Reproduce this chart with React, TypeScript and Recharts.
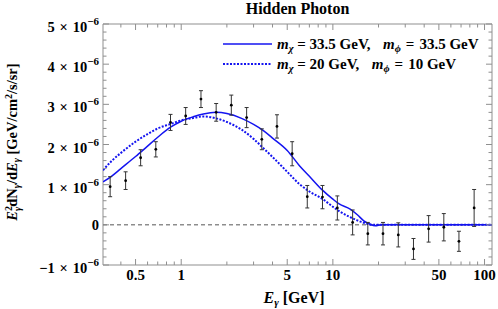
import React from 'react';
import { ComposedChart, Line, Scatter, ErrorBar, XAxis, YAxis, ReferenceLine, ReferenceArea } from 'recharts';

// flux values are in units of 1e-6 GeV/cm^2/s/sr
const binEnergy = [0.34, 0.43, 0.54, 0.68, 0.85, 1.07, 1.35, 1.7, 2.14, 2.7, 3.4, 4.28, 5.39, 6.78, 8.54, 10.7, 13.5, 17.0, 21.4, 27.0, 34.0, 42.8, 53.9, 67.8, 85.4];
const binFlux = [0.95, 1.1, 1.67, 1.88, 2.55, 2.71, 3.13, 2.8, 2.98, 2.67, 2.13, 2.45, 1.77, 0.7, 0.69, 0.42, 0.06, -0.22, -0.22, -0.25, -0.6, -0.1, -0.06, -0.41, 0.42];
const binError = [0.25, 0.22, 0.2, 0.19, 0.2, 0.21, 0.21, 0.22, 0.25, 0.25, 0.26, 0.29, 0.3, 0.28, 0.29, 0.3, 0.31, 0.28, 0.28, 0.3, 0.26, 0.33, 0.34, 0.25, 0.46];

const curveEnergy = [0.305, 0.35, 0.4, 0.5, 0.6, 0.7, 0.85, 1, 1.2, 1.4, 1.7, 2, 2.5, 3, 3.5, 4, 5, 6, 7, 8.5, 10, 11, 13, 14.5, 16, 17.5, 19, 21, 112];
// m_chi = 33.5 GeV, m_phi = 33.5 GeV
const curveHeavy = [1.07, 1.22, 1.4, 1.7, 1.96, 2.18, 2.43, 2.58, 2.69, 2.76, 2.8, 2.77, 2.65, 2.5, 2.34, 2.16, 1.85, 1.48, 1.21, 0.87, 0.64, 0.52, 0.39, 0.25, 0.1, 0.02, -0.025, 0, 0];
// m_chi = 20 GeV, m_phi = 10 GeV
const curveLight = [1.36, 1.6, 1.79, 2.07, 2.26, 2.4, 2.51, 2.6, 2.66, 2.7, 2.65, 2.56, 2.37, 2.14, 1.9, 1.69, 1.32, 1.02, 0.83, 0.65, 0.45, 0.34, 0.19, 0.11, 0.05, 0.01, 0, 0, 0];

const xMajorTicks = [0.5, 1, 5, 10, 50, 100];
const xMinorTicks = [0.4, 0.6, 0.7, 0.8, 0.9, 2, 3, 4, 6, 7, 8, 9, 20, 30, 40, 60, 70, 80, 90];
const yMajorTicks = [-1, 0, 1, 2, 3, 4, 5];

const legendLabels = [
  { mx: '33.5 GeV', mphi: '33.5 GeV', dash: undefined },
  { mx: '20 GeV', mphi: '10 GeV', dash: '2 1.5' },
];

const W = 498;
const H = 309;
const PLOT_LEFT = 103;
const PLOT_RIGHT = 492;
const PLOT_TOP = 24;
const PLOT_BOTTOM = 265;
const FRAME = '#8f8f8f';
const BLUE = '#1414f0';
const SP = '\u2004';
const textStyle: React.CSSProperties = { fontFamily: 'Liberation Serif', fontWeight: 'bold' };

const points = binEnergy.map((E, i) => ({ E, y: binFlux[i], err: binError[i] }));
const heavyData = curveEnergy.map((E, i) => ({ E, v: curveHeavy[i] }));
const lightData = curveEnergy.map((E, i) => ({ E, v: curveLight[i] }));

const xTicks = [...xMinorTicks, ...xMajorTicks].sort((a, b) => a - b);
const yTicks: number[] = [];
for (let k = -5; k <= 25; k++) yTicks.push(Math.round(k * 0.2 * 10) / 10);

const XTick = (props: any) => {
  const { x, payload } = props;
  const v = payload.value;
  const major = xMajorTicks.includes(v);
  const len = major ? 6 : 3.5;
  return (
    <g>
      <line x1={x} x2={x} y1={PLOT_BOTTOM} y2={PLOT_BOTTOM - len} stroke={FRAME} />
      <line x1={x} x2={x} y1={PLOT_TOP} y2={PLOT_TOP + len} stroke={FRAME} />
      {major && (
        <text x={x} y={280} textAnchor="middle" style={textStyle} fontSize={15} fill="#000">
          {v}
        </text>
      )}
    </g>
  );
};

const YTick = (props: any) => {
  const { y, payload } = props;
  const v = payload.value;
  const major = yMajorTicks.includes(v);
  const len = major ? 6 : 3.5;
  return (
    <g>
      <line x1={PLOT_LEFT} x2={PLOT_LEFT + len} y1={y} y2={y} stroke={FRAME} />
      <line x1={PLOT_RIGHT} x2={PLOT_RIGHT - len} y1={y} y2={y} stroke={FRAME} />
      {major && v === 0 && (
        <text x={99} y={y + 5} textAnchor="end" style={textStyle} fontSize={14.5} fill="#000">0</text>
      )}
      {major && v !== 0 && (
        <text x={99} y={y + 8} textAnchor="end" style={textStyle} fontSize={14.5} fill="#000">
          {(v < 0 ? '\u2212' : '') + Math.abs(v) + SP + '\u00d7' + SP + '10'}
          <tspan dy={-7} fontSize={11}>{'\u22126'}</tspan>
        </text>
      )}
    </g>
  );
};

const Dot = (props: any) => <circle cx={props.cx} cy={props.cy} r={1.4} fill="#000" />;

const Overlay = () => (
  <svg width={W} height={H} style={{ position: 'absolute', left: 0, top: 0, pointerEvents: 'none' }}>
    <text x={297.5} y={13.5} textAnchor="middle" fontSize={16} style={textStyle}>Hidden Photon</text>

    {legendLabels.map((l, i) => {
      const ly = 44 + i * 20;
      return (
        <g key={i}>
          <line x1={223} x2={272} y1={ly} y2={ly} stroke={BLUE} strokeWidth={i === 0 ? 1.5 : 2} strokeDasharray={l.dash} />
          <text x={277} y={ly + 4.5} fontSize={15} style={textStyle}>
            <tspan fontStyle="italic">m</tspan>
            <tspan fontStyle="italic" fontSize={10.5} dy={3}>χ</tspan>
            <tspan dy={-3}>{` = ${l.mx},\u2002\u2004`}</tspan>
            <tspan fontStyle="italic">m</tspan>
            <tspan fontStyle="italic" fontSize={10.5} dy={3}>ϕ</tspan>
            <tspan dy={-3}>{`${SP}=${SP}${l.mphi}`}</tspan>
          </text>
        </g>
      );
    })}

    <text x={294} y={303} textAnchor="middle" fontSize={16} style={textStyle}>
      <tspan fontStyle="italic">E</tspan>
      <tspan fontStyle="italic" fontSize={11} dy={3}>γ</tspan>
      <tspan dy={-3}>{' [GeV]'}</tspan>
    </text>

    <text x={17} y={142} textAnchor="middle" fontSize={14.5} style={textStyle} transform="rotate(-90 17 142)">
      <tspan fontStyle="italic">E</tspan>
      <tspan fontSize={10} dy={-5.5}>2</tspan>
      <tspan fontStyle="italic" fontSize={10} dx={-5} dy={9}>γ</tspan>
      <tspan dy={-3.5}>dN</tspan>
      <tspan fontStyle="italic" fontSize={10} dy={3}>γ</tspan>
      <tspan dy={-3}>/d</tspan>
      <tspan fontStyle="italic">E</tspan>
      <tspan fontStyle="italic" fontSize={10} dy={3}>γ</tspan>
      <tspan dy={-3}>{' [GeV/cm'}</tspan>
      <tspan fontSize={10} dy={-5.5}>2</tspan>
      <tspan dy={5.5}>/s/sr]</tspan>
    </text>
  </svg>
);

const App: React.FC = () => {
  return (
    <div style={{ position: 'absolute', left: 0, top: 0, width: W, height: H, background: '#fff' }}>
      <ComposedChart width={W} height={H} margin={{ top: PLOT_TOP, right: W - PLOT_RIGHT, bottom: 0, left: 0 }}>
        <XAxis
          dataKey="E"
          type="number"
          scale="log"
          domain={[0.305, 112]}
          ticks={xTicks}
          interval={0}
          allowDataOverflow
          height={H - PLOT_BOTTOM}
          axisLine={false}
          tickLine={false}
          tickSize={0}
          tick={<XTick />}
        />
        <YAxis
          type="number"
          domain={[-1, 5]}
          ticks={yTicks}
          interval={0}
          allowDataOverflow
          width={PLOT_LEFT}
          axisLine={false}
          tickLine={false}
          tickSize={0}
          tick={<YTick />}
        />
        <ReferenceArea x1={0.305} x2={112} y1={-1} y2={5} fill="none" stroke={FRAME} strokeWidth={1} fillOpacity={0} />
        <ReferenceLine y={0} stroke="#555" strokeDasharray="4 3" strokeWidth={1} />
        <Line data={heavyData} dataKey="v" type="monotone" stroke={BLUE} strokeWidth={1.5} dot={false} isAnimationActive={false} />
        <Line data={lightData} dataKey="v" type="monotone" stroke={BLUE} strokeWidth={2} strokeDasharray="2 1.5" dot={false} isAnimationActive={false} />
        <Scatter data={points} dataKey="y" shape={<Dot />} isAnimationActive={false}>
          <ErrorBar dataKey="err" direction="y" width={2} stroke="#333" strokeWidth={1} isAnimationActive={false} />
        </Scatter>
      </ComposedChart>
      <Overlay />
    </div>
  );
};

export default App;
